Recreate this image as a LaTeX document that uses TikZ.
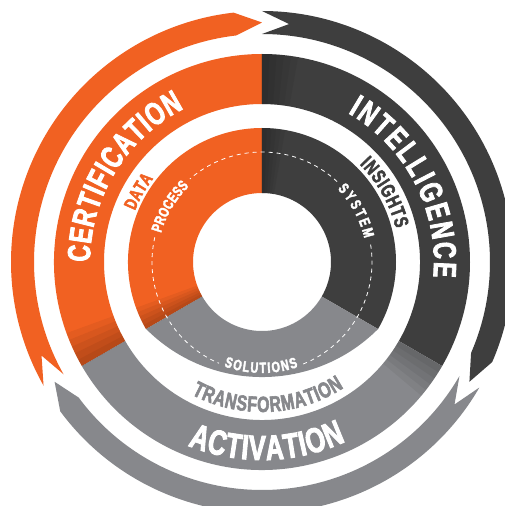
\documentclass[tikz,border=0pt]{standalone}
\usepackage{fontspec}
\newfontfamily\ringfont[FakeStretch=0.72,BoldFeatures={FakeBold=2.5}]{Liberation Sans}
\usepackage{tikz}
\usetikzlibrary{decorations.text}
\definecolor{certorange}{RGB}{241,97,34}
\definecolor{inteldark}{RGB}{62,62,62}
\definecolor{actgray}{RGB}{135,136,140}

\begin{document}
\begin{tikzpicture}[
            arc-lbl/.style n args={3}{decorate,decoration={text along path,text align={fit to path},
                text color=#1,text={|\ringfont\bfseries\fontsize{#2}{#2}\selectfont|#3}}},
            dash-ring/.style={white,line width=0.8pt,dash pattern=on 4pt off 4pt},
            fold-shade/.style={black,opacity=0.05},
        ]
            \useasboundingbox (-262pt,-244pt) rectangle (243pt,262pt);
            \fill[white] (-262pt,-244pt) rectangle (243pt,262pt);

            \foreach \t/\h/\c in {209.5/96.5/certorange, 90/-23.5/inteldark, 330/216.5/actgray}
                \fill[\c] (\t:251pt) arc[start angle=\t, end angle=\h, radius=251pt]
                    -- ({\h-6.5}:239.5pt) -- (\h:228pt) arc[start angle=\h, end angle=\t, radius=228pt]
                    -- ({\t-6.5}:239.5pt) -- cycle;

            \foreach \a/\c in {90/certorange, -30/inteldark, 210/actgray}
                \fill[\c] (\a:158pt) arc[start angle=\a, end angle={\a+120}, radius=158pt]
                    -- ({\a+120}:208pt) arc[start angle={\a+120}, end angle=\a, radius=208pt] -- cycle;
            \foreach \a/\c in {90/certorange, -30/inteldark}
                \fill[\c] (\a:69pt) arc[start angle=\a, end angle={\a+120}, radius=69pt]
                    -- ({\a+120}:134pt) arc[start angle={\a+120}, end angle=\a, radius=134pt] -- cycle;
            \fill[actgray] (210:69pt) arc[start angle=210, end angle=330, radius=69pt]
                -- (330:134pt) arc[start angle=315, end angle=225, radius=164pt] -- cycle;

            \foreach \b in {90,210,330}
                \foreach \k in {2,4,...,10}
                    \fill[fold-shade] ({\b-\k}:158pt) arc[start angle={\b-\k}, end angle=\b, radius=158pt]
                        -- (\b:208pt) arc[start angle=\b, end angle={\b-\k}, radius=208pt] -- cycle;
            \foreach \b in {90,210}
                \foreach \k in {2,4,...,10}
                    \fill[fold-shade] ({\b-\k}:69pt) arc[start angle={\b-\k}, end angle=\b, radius=69pt]
                        -- (\b:134pt) arc[start angle=\b, end angle={\b-\k}, radius=134pt] -- cycle;

            \foreach \s/\e in {47/131, 167/247, 292/370}
                \draw[dash-ring] (\s:110pt) arc[start angle=\s, end angle=\e, radius=110pt];

            \path[arc-lbl={white}{32}{CERTIFICATION}] (180:172pt) arc[start angle=180, end angle=117, radius=172pt];
            \path[arc-lbl={white}{32}{INTELLIGENCE}] (60:172pt) arc[start angle=60, end angle=-5, radius=172pt];
            \path[arc-lbl={white}{35}{ACTIVATION}] (248:198pt) arc[start angle=248, end angle=295, radius=198pt];

            \path[arc-lbl={certorange}{18}{DATA}] (158:137pt) arc[start angle=158, end angle=142.5, radius=137pt];
            \path[arc-lbl={inteldark}{20}{INSIGHTS}] (45:138pt) arc[start angle=45, end angle=14, radius=138pt];
            \path[arc-lbl={actgray}{22}{TRANSFORMATION}] (242:150pt) arc[start angle=242, end angle=303, radius=150pt];

            \path[arc-lbl={white}{15}{PROCESS}] (164:105pt) arc[start angle=164, end angle=134, radius=105pt];
            \path[arc-lbl={white}{15}{SYSTEM}] (44:105pt) arc[start angle=44, end angle=13, radius=105pt];
            \path[arc-lbl={white}{15}{SOLUTIONS}] (250:111pt) arc[start angle=250, end angle=289, radius=111pt];
        \end{tikzpicture}
\end{document}
